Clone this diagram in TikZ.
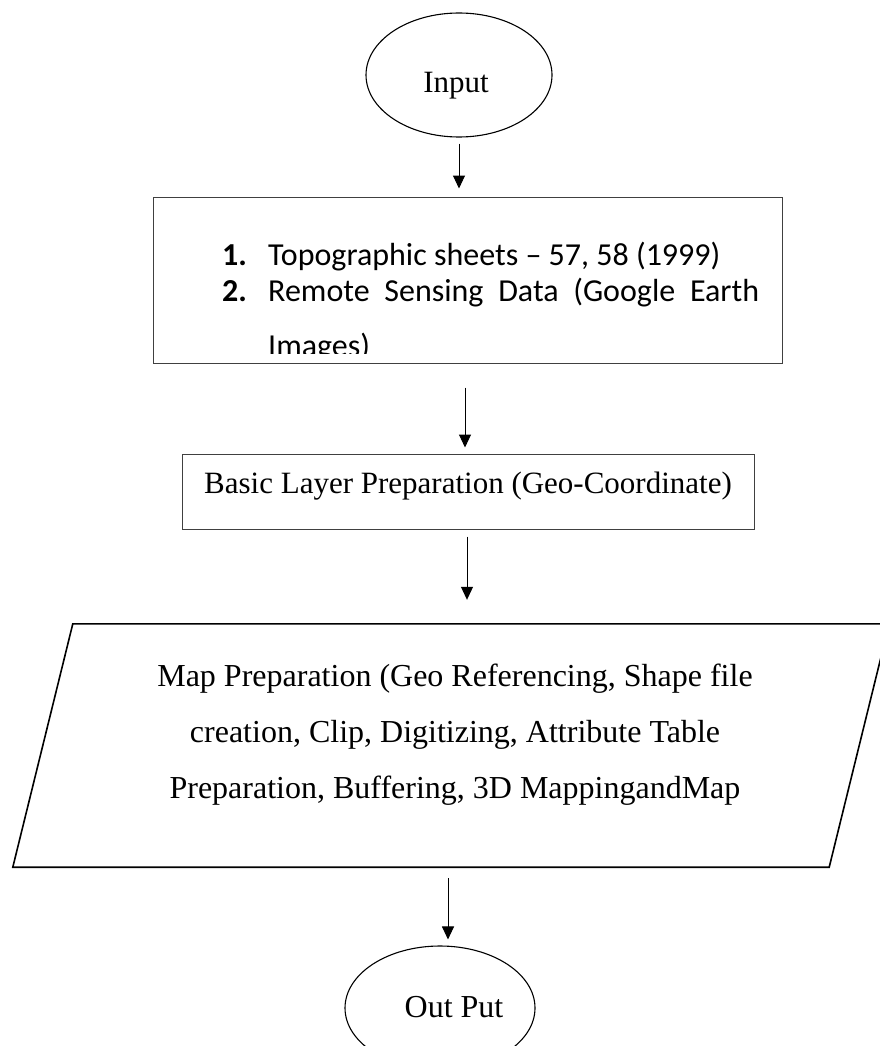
\documentclass[tikz,border=0pt]{standalone}
\usepackage{fontspec}
\setmainfont{Liberation Serif}
\newfontfamily\calibrifont{Carlito}
\usetikzlibrary{shapes.geometric,arrows.meta}

\begin{document}
\begin{tikzpicture}[x=1pt,y=-1pt,
		arr/.style={-{Triangle[width=12pt,length=13pt]}, line width=1pt},
		terminal/.style={ellipse, draw, line width=1.1pt, minimum width=186pt, minimum height=124pt, inner sep=0pt},
		box/.style={rectangle, draw=black!75, line width=1pt, inner sep=0pt},
		txt/.style={font=\fontsize{31}{37}\selectfont, inner sep=0pt, anchor=base},
		listtxt/.style={font=\calibrifont\fontsize{32}{38}\selectfont, inner sep=0pt, anchor=base west}]
		\useasboundingbox (0,0) rectangle (880,1046);
		
		\node [terminal] (input) at (459,75) {};
		\node [txt] (inputtext) at (456,93) {Input};
		
		\node [box, minimum width=629pt, minimum height=166pt] (sources) at (467.5,280) {};
		\node [listtxt] (num1) at (222,265) {\bfseries 1.};
		\node [listtxt] (item1) at (268,265) {Topographic sheets – 57, 58 (1999)};
		\node [listtxt] (num2) at (222,301) {\bfseries 2.};
		\node [listtxt] (item2) at (268,301) {\makebox[491pt][s]{Remote Sensing Data (Google Earth}};
		\begin{scope}
			\clip (sources.north west) rectangle ([yshift=10pt]sources.south east);
			\node [listtxt] (item2b) at (268,356) {Images)};
		\end{scope}
		
		\node [box, minimum width=572pt, minimum height=75pt] (basic) at (468,491.5) {};
		\node [txt] (basictext) at (468,493) {Basic Layer Preparation (Geo-Coordinate)};
		
		\node [minimum width=876pt, minimum height=243pt, inner sep=0pt] (map) at (451,745.5) {};
		\draw [line width=1.6pt] ([xshift=60pt]map.north west) -- (map.north east) -- ([xshift=-60pt]map.south east) -- (map.south west) -- cycle;
		\node [font=\fontsize{32}{56}\selectfont, align=center, inner sep=0pt] (maptext) at (455,735) {Map Preparation (Geo Referencing, Shape file\\ creation, Clip, Digitizing, Attribute Table\\ Preparation, Buffering, 3D MappingandMap};
		
		\node [terminal, minimum width=190pt] (output) at (440,1008) {};
		\node [txt, font=\fontsize{32}{38}\selectfont] (outputtext) at (454,1017) {Out Put};
		
		\draw [arr] ([yshift=-6pt]input.south) -- ([yshift=8pt]input.south |- sources.north);
		\draw [arr] ([xshift=-2.5pt,yshift=-24pt]sources.south) -- ([xshift=-2.5pt,yshift=6pt]sources.south |- basic.north);
		\draw [arr] ([xshift=-1pt,yshift=-7pt]basic.south) -- ([xshift=-1pt,yshift=24pt]basic.south |- map.north);
		\draw [arr] ([xshift=-3pt,yshift=-11pt]map.south) -- ([xshift=-3pt,yshift=6pt]map.south |- output.north);
\end{tikzpicture}
\end{document}
